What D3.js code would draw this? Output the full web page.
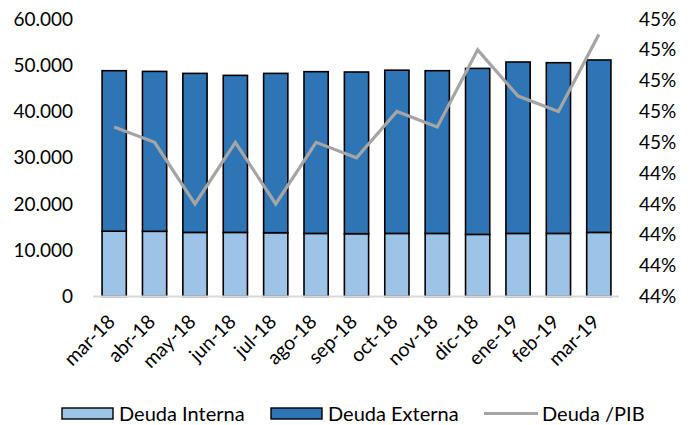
<!DOCTYPE html>
<html>
<head>
<meta charset="utf-8">
<script src="https://cdn.jsdelivr.net/npm/d3@7/dist/d3.min.js"></script>
<style>
  body { margin: 0; background: #fff; }
  text { font-family: Lato, 'Open Sans', sans-serif; fill: #000; }
</style>
</head>
<body>
<svg id="chart"></svg>
<script>
const months = ['mar-18', 'abr-18', 'may-18', 'jun-18', 'jul-18', 'ago-18', 'sep-18',
  'oct-18', 'nov-18', 'dic-18', 'ene-19', 'feb-19', 'mar-19'];
const deudaInterna = [14120, 14100, 13860, 13860, 13790, 13640, 13580,
  13640, 13640, 13430, 13640, 13640, 13860];
const deudaTotal = [48820, 48670, 48240, 47810, 48240, 48610, 48540,
  48930, 48820, 49320, 50700, 50550, 51140];
const deudaExterna = deudaTotal.map((t, i) => t - deudaInterna[i]);
const deudaPib = [44.7, 44.6, 44.2, 44.6, 44.2, 44.6, 44.5,
  44.8, 44.7, 45.2, 44.9, 44.8, 45.3];
const leftTicks = [0, 10000, 20000, 30000, 40000, 50000, 60000];
const rightTicks = [43.6, 43.8, 44.0, 44.2, 44.4, 44.6, 44.8, 45.0, 45.2, 45.4];
const rightTickLabels = ['44%', '44%', '44%', '44%', '44%', '45%', '45%', '45%', '45%', '45%'];

const width = 690;
const height = 425;
const svg = d3.select('#chart')
  .attr('width', width)
  .attr('height', height);

const plot = {left: 94, right: 619, top: 19, bottom: 296.5};

const xScale = d3.scaleBand()
  .domain(months)
  .range([plot.left, plot.right])
  .paddingInner(0.4)
  .paddingOuter(0.2);

const yLeft = d3.scaleLinear()
  .domain([0, 60000])
  .range([plot.bottom, plot.top]);

const yRight = d3.scaleLinear()
  .domain([43.6, 45.4])
  .range([plot.bottom, plot.top]);

const fmtLeft = d => d === 0 ? '0' : d3.format(',')(d).replace(',', '.');

// left axis
const leftAxis = svg.append('g')
  .attr('transform', `translate(${plot.left - 2}, 0)`)
  .call(d3.axisLeft(yLeft).tickValues(leftTicks).tickFormat(fmtLeft).tickSize(0).tickPadding(19));
leftAxis.select('.domain').remove();
leftAxis.selectAll('text').style('font-size', '19px').attr('font-family', null);

// right axis
const rightAxis = svg.append('g')
  .attr('transform', `translate(${plot.right}, 0)`)
  .call(d3.axisRight(yRight).tickValues(rightTicks)
    .tickFormat((d, i) => rightTickLabels[i]).tickSize(0).tickPadding(20));
rightAxis.select('.domain').remove();
rightAxis.selectAll('text').style('font-size', '19px').attr('font-family', null);

// bars
const stack = months.map((m, i) => ({m, interna: deudaInterna[i], externa: deudaExterna[i]}));

svg.append('g').selectAll('rect')
  .data(stack)
  .join('rect')
    .attr('x', d => xScale(d.m))
    .attr('width', xScale.bandwidth())
    .attr('y', d => yLeft(d.interna))
    .attr('height', d => yLeft(0) - yLeft(d.interna))
    .attr('fill', '#9dc3e6')
    .attr('stroke', '#000')
    .attr('stroke-width', 1.6);

svg.append('g').selectAll('rect')
  .data(stack)
  .join('rect')
    .attr('x', d => xScale(d.m))
    .attr('width', xScale.bandwidth())
    .attr('y', d => yLeft(d.interna + d.externa))
    .attr('height', d => yLeft(d.interna) - yLeft(d.interna + d.externa))
    .attr('fill', '#2e75b6')
    .attr('stroke', '#000')
    .attr('stroke-width', 1.6);

// zero line
svg.append('line')
  .attr('x1', plot.left - 1).attr('x2', plot.right)
  .attr('y1', yLeft(0)).attr('y2', yLeft(0))
  .attr('stroke', '#d9d9d9')
  .attr('stroke-width', 2);

// x labels
svg.append('g').selectAll('text')
  .data(months)
  .join('text')
    .attr('text-anchor', 'end')
    .attr('transform', d => `translate(${xScale(d) + xScale.bandwidth() / 2 + 2}, 323) rotate(-45)`)
    .style('font-size', '19.5px')
    .text(d => d);

// line
const line = d3.line()
  .x((d, i) => xScale(months[i]) + xScale.bandwidth() / 2)
  .y(d => yRight(d));

svg.append('path')
  .datum(deudaPib)
  .attr('d', line)
  .attr('fill', 'none')
  .attr('stroke', '#a5a5a5')
  .attr('stroke-width', 3.2)
  .attr('stroke-linejoin', 'miter');

// legend
const legend = svg.append('g').attr('transform', 'translate(0, 413.5)');
const items = [
  {label: 'Deuda Interna', x: 62, type: 'rect', fill: '#9dc3e6'},
  {label: 'Deuda Externa', x: 271, type: 'rect', fill: '#2e75b6'},
  {label: 'Deuda /PIB', x: 484, type: 'line', fill: '#a5a5a5'}
];
items.forEach(it => {
  if (it.type === 'rect') {
    legend.append('rect')
      .attr('x', it.x).attr('y', -5.5)
      .attr('width', 51).attr('height', 11)
      .attr('fill', it.fill)
      .attr('stroke', '#000')
      .attr('stroke-width', 1.4);
  } else {
    legend.append('line')
      .attr('x1', it.x).attr('x2', it.x + 54)
      .attr('y1', 0).attr('y2', 0)
      .attr('stroke', it.fill)
      .attr('stroke-width', 3.2);
  }
  legend.append('text')
    .attr('x', it.x + (it.type === 'rect' ? 57 : 58))
    .attr('y', 0)
    .attr('dy', '0.35em')
    .style('font-size', '20px')
    .text(it.label);
});
</script>
</body>
</html>
